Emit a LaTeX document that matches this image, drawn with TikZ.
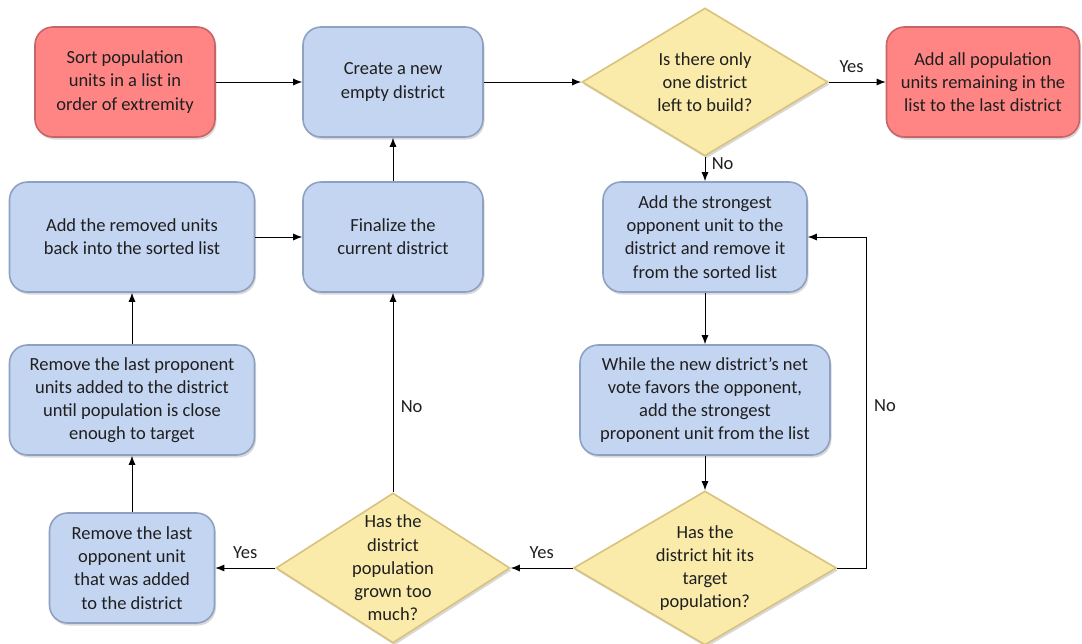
\documentclass[tikz,border=0pt]{standalone}
\usepackage{fontspec}
\setmainfont{Carlito}
\usetikzlibrary{positioning,shapes.geometric,arrows.meta,shadows}

\definecolor{stepblue}{HTML}{C4D5F1}
\definecolor{stepblueedge}{HTML}{8EA1C2}
\definecolor{endred}{HTML}{FF8585}
\definecolor{endrededge}{HTML}{C86464}
\definecolor{askyellow}{HTML}{FAEBAB}
\definecolor{askyellowedge}{HTML}{D8C27E}

\tikzset{
  box/.style={rectangle, rounded corners=18pt, draw=stepblueedge, line width=1.6pt,
    fill=stepblue, minimum height=110pt, align=center, inner sep=4pt,
    drop shadow={opacity=0.3, shadow xshift=1.5pt, shadow yshift=-2.5pt}},
  endbox/.style={box, draw=endrededge, fill=endred},
  ask/.style={diamond, draw=askyellowedge, fill=askyellow, line width=1.6pt, inner sep=0pt,
    label={[align=center]center:{#1}},
    drop shadow={opacity=0.3, shadow xshift=1.5pt, shadow yshift=-2.5pt}},
  flow/.style={-{Latex[length=9pt,width=7pt]}, line width=0.9pt},
}

\begin{document}
\begin{tikzpicture}[x=1pt,y=-1pt,on grid,font=\fontsize{18.5}{23.2}\selectfont,text=black!88]
\useasboundingbox (0,0) rectangle (1082,643);

\node[endbox, minimum width=180pt] (sort) at (125,82) {Sort population\\units in a list in\\order of extremity};
\node[box, minimum width=180pt, right=268pt of sort] (create) {Create a new\\empty district};
\node[ask={Is there only\\one district\\left to build?}, minimum width=246pt, minimum height=148pt, right=312pt of create] (isone) {};
\node[endbox, minimum width=193pt, right=278pt of isone] (addall) {Add all population\\units remaining in the\\list to the last district};

\node[box, minimum width=180pt, below=155pt of create] (final) {Finalize the\\current district};
\node[box, minimum width=245pt, left=261pt of final] (addback) {Add the removed units\\back into the sorted list};
\node[box, minimum width=204pt, below=155pt of isone] (addopp) {Add the strongest\\opponent unit to the\\district and remove it\\from the sorted list};
\node[box, minimum width=250pt, below=163pt of addopp] (addprop) {While the new district’s net\\vote favors the opponent,\\add the strongest\\proponent unit from the list};

\node[ask={Has the\\district hit its\\target\\population?}, minimum width=263pt, minimum height=154pt, below=168pt of addprop] (hit) {};
\node[ask={Has the\\district\\population\\grown too\\much?}, minimum width=234pt, minimum height=150pt, left=312pt of hit] (toomuch) {};
\node[box, minimum width=165pt, left=261pt of toomuch] (remopp) {Remove the last\\opponent unit\\that was added\\to the district};
\node[box, minimum width=245pt, above=168pt of remopp] (remprop) {Remove the last proponent\\units added to the district\\until population is close\\enough to target};

% connectors
\draw[flow] (sort) -- (create);
\draw[flow] (create) -- (isone);
\draw[flow] (isone) -- node[above, pos=0.4, yshift=6pt] {Yes} (addall);
\draw[flow] (isone) -- node[right, pos=0.3, xshift=3pt] {No} (addopp);
\draw[flow] (addopp) -- (addprop);
\draw[flow] (addprop) -- (hit);
\draw[flow] (hit.east) -- ++(29,0) |- node[right, pos=0.245, xshift=4pt] {No} (addopp.east);
\draw[flow] (hit) -- node[above, yshift=6pt] {Yes} (toomuch);
\draw[flow] (toomuch) -- node[right, pos=0.43, xshift=4pt] {No} (final);
\draw[flow] (toomuch) -- node[above, yshift=6pt] {Yes} (remopp);
\draw[flow] (remopp) -- (remprop);
\draw[flow] (remprop) -- (addback);
\draw[flow] (addback) -- (final);
\draw[flow] (final) -- (create);
\end{tikzpicture}
\end{document}
